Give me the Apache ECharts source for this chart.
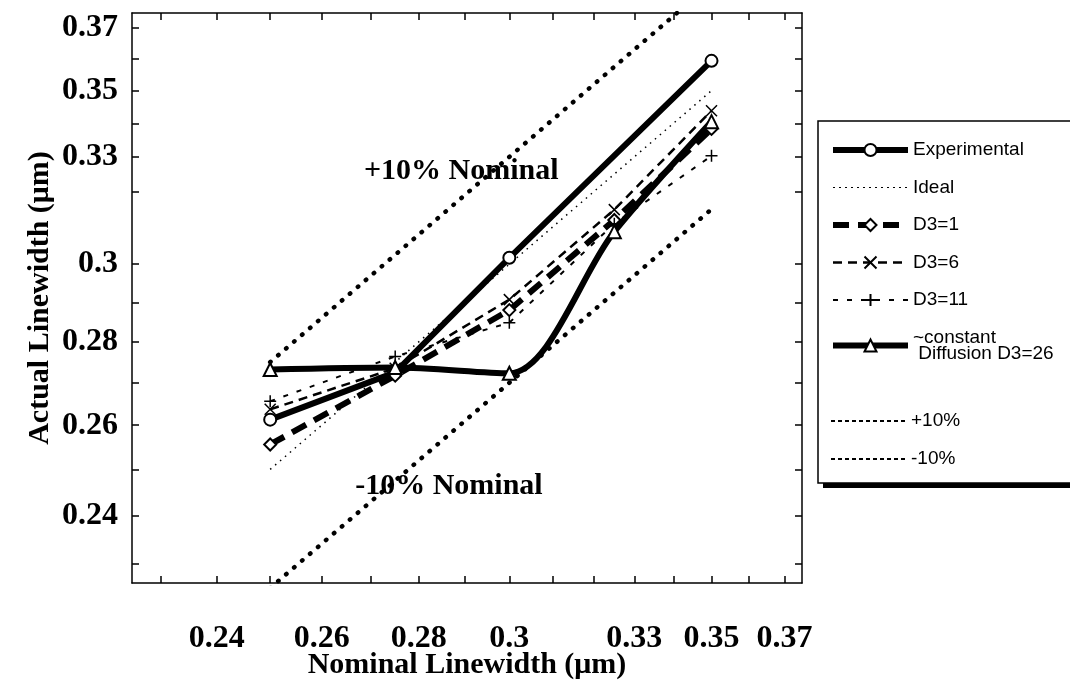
<!DOCTYPE html>
<html><head><meta charset="utf-8">
<script src="https://cdn.jsdelivr.net/npm/echarts@6/dist/echarts.min.js"></script>
<style>html,body{margin:0;padding:0;background:#fff}#c{width:1070px;height:683px}</style>
</head><body><div id="c"></div>
<script>
// ---- data ----
const nominal = [0.25, 0.275, 0.3, 0.325, 0.35];
const experimentalX = [0.25, 0.275, 0.3, 0.35];
const experimental = [0.2613, 0.2725, 0.3017, 0.3594];
const ideal = [0.25, 0.275, 0.3, 0.325, 0.35];
const d3_1 = [0.2556, 0.2717, 0.2880, 0.3120, 0.3383];
const d3_6 = [0.2637, 0.2735, 0.2907, 0.3149, 0.3438];
const d3_11 = [0.2656, 0.2764, 0.2848, 0.3110, 0.3303];
const d3_26 = [0.2732, 0.2737, 0.2723, 0.3088, 0.3405];
const plus10 = [0.275, 0.3025, 0.33, 0.3575, 0.385];
const minus10 = [0.225, 0.2475, 0.27, 0.2925, 0.315];
const xTicks = [0.23,0.24,0.25,0.26,0.27,0.28,0.29,0.3,0.31,0.32,0.33,0.34,0.35,0.36,0.37];
const xLabels = [0.24,0.26,0.28,0.3,0.33,0.35,0.37];
const yTicks = [0.23,0.24,0.25,0.26,0.27,0.28,0.29,0.3,0.32,0.33,0.34,0.35,0.36,0.37];
const yLabels = [0.24,0.26,0.28,0.3,0.33,0.35,0.37];
const noteText = ['+10% Nominal', '-10% Nominal'];
const noteX = [0.2892, 0.2865];
const noteY = [0.3257, 0.2463];

// ---- chart ----
const serif = 'Liberation Serif';
const sans = 'Liberation Sans';
const pair = (xs, ys) => xs.map((x, i) => [x, ys[i]]);
const fmt = v => String(+(+v).toFixed(2));
const X_PATH = 'path://M0,0L10,10M10,0L0,10';
const PLUS_PATH = 'path://M5,0L5,10M0,5L10,5';

function line(name, xs, ys, o) {
  return Object.assign({
    name, type: 'line', data: pair(xs, ys), xAxisIndex: 0, yAxisIndex: 0,
    clip: true, z: 3,
    lineStyle: Object.assign({ color: '#000' }, o.line),
    symbol: o.symbol || 'none', symbolSize: o.size || 10, showSymbol: !!o.symbol,
    itemStyle: o.item || { color: '#000', borderWidth: 1.5 },
    smooth: o.smooth || false, animation: false
  }, o.extra || {});
}

const series = [
  line('Experimental', experimentalX, experimental, { line: { width: 6 }, symbol: 'emptyCircle', size: 12 }),
  line('Ideal', nominal, ideal, { line: { width: 1.5, type: [1.5, 5] } }),
  line('D3=1', nominal, d3_1, { line: { width: 6, type: [16, 9] }, symbol: 'emptyDiamond', size: 12 }),
  line('D3=6', nominal, d3_6, { line: { width: 2.5, type: [9, 6] }, symbol: X_PATH, size: 11,
    item: { color: 'rgba(0,0,0,0)', borderColor: '#000', borderWidth: 1.5 } }),
  line('D3=11', nominal, d3_11, { line: { width: 2, type: [5, 9] }, symbol: PLUS_PATH, size: 12,
    item: { color: 'rgba(0,0,0,0)', borderColor: '#000', borderWidth: 1.5 } }),
  line('~constant Diffusion D3=26', nominal, d3_26, { line: { width: 6 }, symbol: 'emptyTriangle', size: 13, smooth: 0.3 }),
  line('+10%', nominal, plus10, { line: { width: 4.5, type: [0.5, 10], cap: 'round' },
    extra: { markPoint: {
      symbol: 'rect', symbolSize: 1, itemStyle: { color: 'rgba(0,0,0,0)' }, silent: true,
      label: { show: true, position: 'inside', formatter: '{b}', fontFamily: serif, fontWeight: 'bold', fontSize: 30, color: '#000' },
      data: noteText.map((t, i) => ({ name: t, coord: [noteX[i], noteY[i]] }))
    } } }),
  line('-10%', nominal, minus10, { line: { width: 4.5, type: [0.5, 10], cap: 'round' } })
];

const legendText = { fontFamily: sans, fontSize: 19, color: '#000', lineHeight: 16 };
const hideSym = { opacity: 0 };
const legendDash = { width: 2, type: [4, 3], cap: 'butt' };

const logAxis = (extra) => Object.assign({
  type: 'log', logBase: 10, gridIndex: 0, splitLine: { show: false },
  axisLine: { show: true, onZero: false, lineStyle: { color: '#000', width: 1.5 } },
  minorTick: { show: false }
}, extra);
const ticks = vals => ({ show: true, inside: true, length: 7, customValues: vals, lineStyle: { color: '#000', width: 1.5 } });
const labelFont = { fontFamily: serif, fontWeight: 'bold', fontSize: 32, color: '#000' };
const nameFont = { fontFamily: serif, fontWeight: 'bold', fontSize: 30, color: '#000' };

const option = {
  backgroundColor: '#fff',
  animation: false,
  grid: { left: 132, right: 268, top: 13, bottom: 100, containLabel: false, outerBoundsMode: 'none' },
  xAxis: [
    logAxis({ position: 'bottom', min: 0.225, max: 0.375, axisTick: ticks(xTicks),
      axisLabel: Object.assign({ show: true, customValues: xLabels, formatter: fmt, margin: 40 }, labelFont),
      name: 'Nominal Linewidth (μm)', nameLocation: 'middle', nameGap: 67, nameMoveOverlap: false, nameTextStyle: nameFont }),
    logAxis({ position: 'top', min: 0.225, max: 0.375, axisTick: ticks(xTicks), axisLabel: { show: false } })
  ],
  yAxis: [
    logAxis({ position: 'left', min: 0.226, max: 0.375, axisTick: ticks(yTicks),
      axisLabel: Object.assign({ show: true, customValues: yLabels, formatter: fmt, margin: 14 }, labelFont),
      name: 'Actual Linewidth (μm)', nameLocation: 'middle', nameGap: 77, nameMoveOverlap: false, nameTextStyle: nameFont }),
    logAxis({ position: 'right', min: 0.226, max: 0.375, axisTick: ticks(yTicks), axisLabel: { show: false } })
  ],
  legend: [
    {
      orient: 'vertical', left: 818, top: 121, itemWidth: 75, itemHeight: 15, itemGap: 18.5,
      padding: [19.5, 40, 120, 12],
      backgroundColor: '#fff', borderWidth: 0,
      shadowColor: '#000', shadowBlur: 0, shadowOffsetX: 5, shadowOffsetY: 5,
      textStyle: legendText, selectedMode: false, z: 4,
      lineStyle: { width: 'inherit' },
      formatter: n => n === '~constant Diffusion D3=26' ? '~constant\n Diffusion D3=26' : n,
      data: ['Experimental', { name: 'Ideal', itemStyle: hideSym, lineStyle: { width: 1.2, type: [2, 4] } },
        'D3=1', 'D3=6', 'D3=11', '~constant Diffusion D3=26']
    },
    {
      orient: 'vertical', left: 818, top: 121, itemWidth: 75, itemHeight: 15, itemGap: 19,
      padding: [290.5, 150, 14.5, 12], textStyle: legendText, selectedMode: false, z: 6,
      backgroundColor: 'rgba(0,0,0,0)', borderColor: '#000', borderWidth: 1.5,
      data: [{ name: '+10%', itemStyle: hideSym, lineStyle: legendDash },
             { name: '-10%', itemStyle: hideSym, lineStyle: legendDash }]
    }
  ],
  series
};
const chart = echarts.init(document.getElementById('c'), null, { renderer: 'canvas' });
chart.setOption(option);
</script></body></html>
